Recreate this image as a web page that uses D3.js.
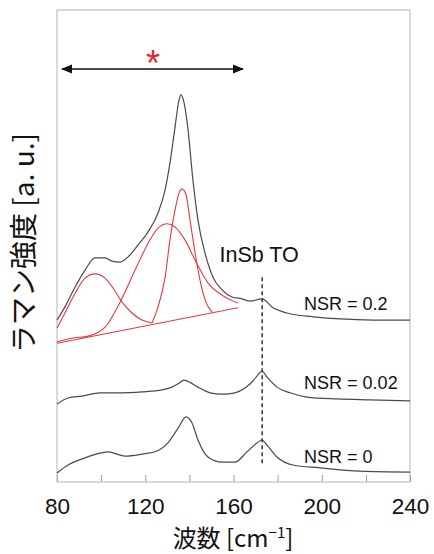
<!doctype html>
<html>
  <head>
    <script src="https://cdnjs.cloudflare.com/ajax/libs/d3/7.8.5/d3.min.js"></script>
    <style>
      body { margin: 0; background: #fff; }
      text { font-family: "Liberation Sans", Arial, "Noto Sans CJK JP", sans-serif; }
    </style>
  </head>
  <body>
    <svg style="height: 554px; width: 434px;"></svg>
    <script>
        // wavenumber [cm-1] / intensity (arbitrary, 0..100)
        var nsr02 = [[80,34.3],[83.6,37.1],[88.2,41.3],[92.7,44.9],[97.2,47.5],[101.8,47.5],[104.9,46.8],[108.6,46.6],
                     [112.2,47.7],[116.7,50.2],[121.3,53],[125.8,57],[129,61.9],[131.2,67.6],[133.5,75.2],[135.3,80.9],
                     [136.2,82],[137.6,80.3],[139.4,74.6],[141.6,64],[143.9,55.5],[147.1,48.5],[150.7,43.4],[154.8,40.7],
                     [159.3,39.2],[163.9,38.8],[167.5,38.3],[172.9,38.8],[177.9,36.9],[184.3,35.8],[196,35],
                     [211.5,34.5],[226.4,34.3],[240,34.3]];
        var nsr002 = [[80,16.5],[85,17.8],[91.3,18.2],[99.5,18.9],[109.5,18.9],[118.5,19.1],[127.6,19.5],[132.1,20.1],
                      [134.9,20.8],[137.6,21.6],[140.7,21],[143.9,20.1],[149.4,18.9],[154.8,18.6],[160.7,18.9],
                      [165.2,19.9],[168.8,21.4],[171.1,22.7],[172.9,23.5],[175.2,22.2],[179.7,20.1],[185.6,18.9],
                      [193.3,18],[206.9,17.6],[221.9,17.4],[240,17.2]];
        var nsr0 = [[80,1.9],[85,3.6],[92.7,5.1],[99.5,6.1],[103.1,6.4],[110.8,5.5],[118.5,5.9],[124.4,6.4],[130.3,8.3],
                    [134.9,11.4],[138.5,13.8],[141.2,12.5],[143.9,8.9],[148.4,5.3],[154.8,4.2],[160.7,4.2],[166.1,6.4],
                    [170.7,8.3],[172.9,8.9],[175.2,7.8],[179.7,5.3],[187,3.6],[199.2,3],[217.4,2.3],[240,2.1]];

        // fitted components of the NSR = 0.2 spectrum
        var fitBase = [[80,29.4],[162,36.9]];
        var fitPeak1 = [[80,32.6],[83.6,35.8],[88.2,40],[92.7,43.2],[97.2,44.1],[101.8,43.2],[105.4,41.1],[109.5,38.1],
                        [114,35.8],[118.5,34.3],[123.1,33.7]];
        var fitPeak2 = [[80,29.7],[87.3,30.5],[94.1,30.9],[101.8,32.8],[108.6,38.1],[115.4,44.9],[121.3,50.6],
                        [125.8,53.8],[129.9,54.7],[133.5,54],[138,51.3],[142.6,47],[148.4,42.2],[154.8,39.6],[162,37.9]];
        var fitPeak3 = [[123.1,33.7],[125.8,37.1],[129,43.4],[131.2,51.3],[133.5,57.6],[135.3,61.2],[136.7,62.1],
                        [138.5,60.8],[140.3,55.5],[142.6,48.5],[144.8,42.8],[147.1,38.6],[150.3,36]];

        var nsrLabels = [
            {text: "NSR = 0.2", x: 192, y: 36.4},
            {text: "NSR = 0.02", x: 192, y: 19.7},
            {text: "NSR = 0", x: 192, y: 4.0}
        ];
        var tickVals = [80, 100, 120, 140, 160, 180, 200, 220, 240];
        var tickLabels = [80, 120, 160, 200, 240];
        var insbTO = 173;

        drawChart();

        function drawChart() {
            var svg = d3.select("svg");
            var mLeft = 57, mRight = 410, mTop = 10, mBottom = 482;

            var xScale = d3.scaleLinear().domain([80, 240]).range([mLeft, mRight]);
            var yScale = d3.scaleLinear().domain([0, 100]).range([mBottom, mTop]);

            var xAxis = d3.axisBottom(xScale)
                            .tickValues(tickVals)
                            .tickSizeInner(-7)
                            .tickSizeOuter(0)
                            .tickPadding(16)
                            .tickFormat(d => tickLabels.indexOf(d) >= 0 ? d : "");

            var gx = svg.append("g").attr("transform", "translate(0," + mBottom + ")").call(xAxis);
            gx.select(".domain").remove();
            gx.selectAll("line").attr("stroke", "#999");
            gx.selectAll("text").attr("font-size", "22.5px").attr("fill", "#111")
                .style("font-family", "'Liberation Sans', Arial, sans-serif");

            svg.append("rect")
                .attr("x", mLeft).attr("y", mTop)
                .attr("width", mRight - mLeft).attr("height", mBottom - mTop)
                .style("fill", "none").style("stroke", "#b5b5b5").style("stroke-width", "1px");

            var line = d3.line().x(d => xScale(d[0])).y(d => yScale(d[1])).curve(d3.curveMonotoneX);

            [fitBase, fitPeak1, fitPeak2, fitPeak3].forEach(function(s) {
                svg.append("path").attr("d", line(s))
                    .style("fill", "none").style("stroke", "#e23b3b").style("stroke-width", "1.1px");
            });

            [nsr02, nsr002, nsr0].forEach(function(s) {
                svg.append("path").attr("d", line(s))
                    .style("fill", "none").style("stroke", "#4a4a4a").style("stroke-width", "1.2px");
            });

            // InSb TO marker
            svg.append("line")
                .attr("x1", xScale(insbTO)).attr("x2", xScale(insbTO))
                .attr("y1", yScale(43.4)).attr("y2", yScale(3.6))
                .style("stroke", "#333").style("stroke-width", "1.5px").style("stroke-dasharray", "4,3");
            svg.append("text").attr("x", xScale(insbTO) - 3).attr("y", 262)
                .attr("text-anchor", "middle").attr("font-size", "21.5px").attr("fill", "#111")
                .text("InSb TO");

            svg.selectAll(".nsr").data(nsrLabels).enter().append("text")
                .attr("class", "nsr")
                .attr("x", d => xScale(d.x)).attr("y", d => yScale(d.y))
                .attr("font-size", "18px").attr("fill", "#111")
                .text(d => d.text);

            // double arrow with red asterisk
            var defs = svg.append("defs");
            defs.append("marker").attr("id", "head").attr("viewBox", "0 0 10 10")
                .attr("refX", 9).attr("refY", 5).attr("markerWidth", 7).attr("markerHeight", 7)
                .attr("orient", "auto-start-reverse")
                .append("path").attr("d", "M0,1L10,5L0,9z").attr("fill", "#111");
            svg.append("line")
                .attr("x1", xScale(82.3)).attr("x2", xScale(164.3))
                .attr("y1", yScale(87.5)).attr("y2", yScale(87.5))
                .style("stroke", "#111").style("stroke-width", "1.6px")
                .attr("marker-start", "url(#head)").attr("marker-end", "url(#head)");
            svg.append("text").attr("x", xScale(123.5)).attr("y", yScale(87.5) + 7)
                .attr("text-anchor", "middle").attr("font-size", "36px").attr("fill", "#e22a2a")
                .text("*");

            // axis titles
            svg.append("text").attr("x", 233).attr("y", 547)
                .attr("text-anchor", "middle").attr("font-size", "24px").attr("fill", "#111")
                .style("font-family", "'Noto Sans CJK JP', sans-serif")
                .html("波数 [cm<tspan dy='-9' font-size='15px'>−1</tspan><tspan dy='9'>]</tspan>");

            svg.append("text").attr("transform", "translate(34,243) rotate(-90)")
                .attr("text-anchor", "middle").attr("font-size", "28px").attr("fill", "#111")
                .style("font-family", "'Noto Sans CJK JP', sans-serif")
                .text("ラマン強度 [a. u.]");
        }
    </script>
  </body>
</html>
